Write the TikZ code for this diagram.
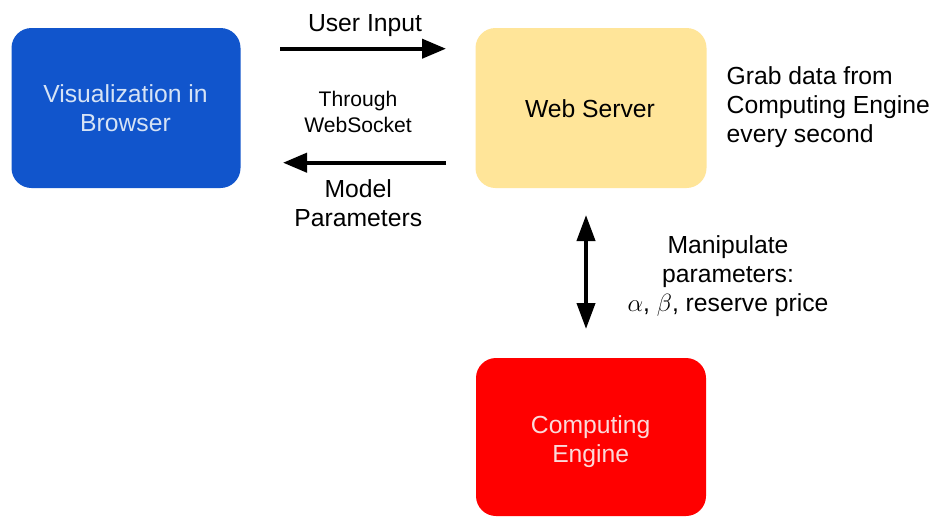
\documentclass[tikz,border=0pt]{standalone}
\usepackage{fontspec}
\setmainfont{Liberation Sans}
\usetikzlibrary{arrows.meta}
\definecolor{gblue}{HTML}{1155CC}
\definecolor{gyellow}{HTML}{FFE599}
\definecolor{gred}{HTML}{FF0000}
\definecolor{lblue}{HTML}{D6E3F5}
\definecolor{lpink}{HTML}{FBDADA}
\tikzset{
  box/.style={rectangle, rounded corners=20pt, inner sep=0pt, align=center,
    font=\fontsize{24.7}{29}\selectfont},
  lbl/.style={inner sep=0pt, align=center, font=\fontsize{24.7}{29}\selectfont},
  smalllbl/.style={inner sep=0pt, align=center, font=\fontsize{21.1}{26}\selectfont},
  harrow/.style={line width=4pt, -{Triangle[length=24pt,width=19pt]}},
  varrow/.style={line width=4pt, {Triangle[length=26pt,width=18pt]}-{Triangle[length=26pt,width=18pt]}},
}
\begin{document}
\begin{tikzpicture}[x=1pt,y=-1pt]
\useasboundingbox (0,0) rectangle (933,517);
\fill[white] (0,0) rectangle (933,517);
% boxes
\node[box, fill=gblue, minimum width=229pt, minimum height=160pt] (browser) at (126,108) {};
\node[box, fill=gyellow, minimum width=231pt, minimum height=160pt] (server) at (591,108) {};
\node[box, fill=gred, minimum width=230pt, minimum height=158pt] (engine) at (591,437) {};
% box texts
\node[lbl, text=lblue] (browsertxt) at (125.5,108.2) {Visualization in\\Browser};
\node[lbl, text=black] (servertxt) at (590,108.3) {Web Server};
\node[lbl, text=lpink] (enginetxt) at (590.7,442) {Computing\\Engine};
% arrow end points
\coordinate (uiS) at (280,48.7);
\coordinate (uiE) at (446,48.7);
\coordinate (mpS) at (446,162.7);
\coordinate (mpE) at (283,162.7);
\coordinate (vT) at (586,215);
\coordinate (vB) at (586,329);
\draw[harrow] (uiS) -- (uiE);
\draw[harrow] (mpS) -- (mpE);
\draw[varrow] (vT) -- (vB);
% labels
\node[lbl] (ui) at (365,26) {User Input};
\node[smalllbl] (ws) at (358,112) {Through\\WebSocket};
\node[lbl] (mp) at (358.3,203.5) {Model\\Parameters};
\node[lbl, align=left, anchor=west] (grab) at (726.5,107.5) {Grab data from\\Computing Engine\\every second};
\node[lbl] (manip) at (728,276) {Manipulate\\parameters:\\$\alpha$, $\beta$, reserve price};
\end{tikzpicture}
\end{document}
